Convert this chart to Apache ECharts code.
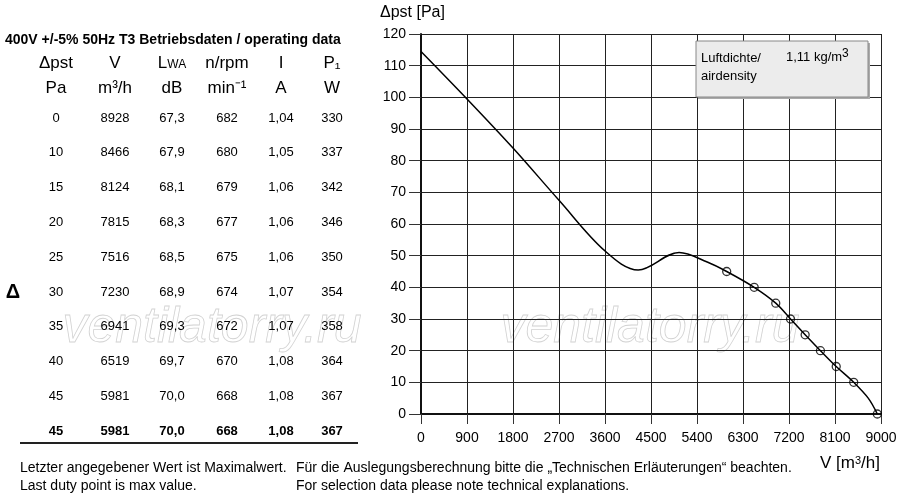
<!DOCTYPE html>
<html>
<head>
<meta charset="utf-8">
<script src="https://cdn.jsdelivr.net/npm/echarts@6/dist/echarts.min.js"></script>
<style>
  html, body { margin: 0; padding: 0; background: #fff; }
  #main { width: 900px; height: 500px; }
</style>
</head>
<body>
<div id="main"></div>
<script>
// Betriebsdaten (table + markers)
var dpst    = [0, 10, 15, 20, 25, 30, 35, 40, 45, 45];
var flow    = [8928, 8466, 8124, 7815, 7516, 7230, 6941, 6519, 5981, 5981];
var lwa     = ['67,3', '67,9', '68,1', '68,3', '68,5', '68,9', '69,3', '69,7', '70,0', '70,0'];
var rpm     = [682, 680, 679, 677, 675, 674, 672, 670, 668, 668];
var current = ['1,04', '1,05', '1,06', '1,06', '1,06', '1,07', '1,07', '1,08', '1,08', '1,08'];
var power   = [330, 337, 342, 346, 350, 354, 358, 364, 367, 367];

// Kennlinie
var curveV = [0, 900, 1800, 2700, 3600, 4250, 5050, 5600, 5981, 6519, 6941, 7230, 7516, 7815, 8124, 8466, 8750, 8928];
var curveP = [114.5, 99.5, 84, 67.5, 51.5, 45.5, 51, 48, 45, 40, 35, 30, 25, 20, 15, 10, 5, 0];

var xTicks = [0, 900, 1800, 2700, 3600, 4500, 5400, 6300, 7200, 8100, 9000];

var FONT = '"Liberation Sans", Arial, sans-serif';
var chart = echarts.init(document.getElementById('main'));

var colX = [56, 115, 172, 227, 281, 332];
var graphic = [];

// Tabelle
graphic.push({ type: 'text', left: 5, top: 33,
  style: { text: '400V +/-5% 50Hz T3 Betriebsdaten / operating data', font: 'bold 14px ' + FONT, fill: '#000' } });

var head1 = ['Δpst', 'V', '{n|L}{s|WA}', 'n/rpm', 'I', 'P₁'];
var head2 = ['Pa', 'm³/h', 'dB', 'min⁻¹', 'A', 'W'];
for (var c = 0; c < 6; c++) {
  graphic.push({ type: 'text', x: colX[c], y: 63,
    style: { text: head1[c], font: '17px ' + FONT, fill: '#000', align: 'center', verticalAlign: 'middle',
      rich: { n: { fontSize: 17, fontFamily: FONT }, s: { fontSize: 12, fontFamily: FONT, padding: [3, 0, 0, 0] } } } });
  graphic.push({ type: 'text', x: colX[c], y: 88,
    style: { text: head2[c], font: '17px ' + FONT, fill: '#000', align: 'center', verticalAlign: 'middle' } });
}

for (var r = 0; r < dpst.length; r++) {
  var row = [dpst[r], flow[r], lwa[r], rpm[r], current[r], power[r]];
  var bold = r === dpst.length - 1;
  for (var k = 0; k < 6; k++) {
    graphic.push({ type: 'text', x: colX[k], y: 118 + r * 34.8,
      style: { text: String(row[k]), font: (bold ? 'bold ' : '') + '13px ' + FONT, fill: '#000',
        align: 'center', verticalAlign: 'middle' } });
  }
}
graphic.push({ type: 'text', x: 13, y: 292,
  style: { text: 'Δ', font: 'bold 20px ' + FONT, fill: '#000', align: 'center', verticalAlign: 'middle' } });
graphic.push({ type: 'line', shape: { x1: 20, y1: 443, x2: 358, y2: 443 },
  style: { stroke: '#222', lineWidth: 2 } });

// Wasserzeichen
['ventilatorry.ru', 'ventilatorry.ru'].forEach(function (t, i) {
  graphic.push({ type: 'text', left: i === 0 ? 62 : 500, top: 303, z: -1,
    style: { text: t, font: 'italic 50px ' + FONT, fill: 'rgba(255,255,255,0)', stroke: '#d2d2d2', lineWidth: 0.8 } });
});

// Luftdichte-Box
graphic.push({ type: 'rect', shape: { x: 698, y: 43, width: 172, height: 56 },
  style: { fill: '#aaa' }, z: 10 });
graphic.push({ type: 'rect', shape: { x: 696, y: 41, width: 172, height: 56 },
  style: { fill: '#ececec', stroke: '#888', lineWidth: 1 }, z: 11 });
graphic.push({ type: 'text', left: 701, top: 52, z: 12,
  style: { text: 'Luftdichte/', font: '13px ' + FONT, fill: '#000' } });
graphic.push({ type: 'text', left: 701, top: 70, z: 12,
  style: { text: 'airdensity', font: '13px ' + FONT, fill: '#000' } });
graphic.push({ type: 'text', left: 786, top: 48, z: 12,
  style: { text: '{a|1,11 kg/m}{b|3}', fill: '#000',
    rich: { a: { fontSize: 13, fontFamily: FONT, padding: [6, 0, 0, 0] }, b: { fontSize: 12, fontFamily: FONT } } } });

// Achsentitel
graphic.push({ type: 'text', left: 380, top: 5,
  style: { text: 'Δpst [Pa]', font: '16px ' + FONT, fill: '#000' } });
graphic.push({ type: 'text', left: 820, top: 455,
  style: { text: '{a|V [m}{b|3}{a|/h]}', fill: '#000',
    rich: { a: { fontSize: 17, fontFamily: FONT, padding: [5, 0, 0, 0] }, b: { fontSize: 11, fontFamily: FONT } } } });

// Fußnoten
var foot = [
  ['Letzter angegebener Wert ist Maximalwert.', 20, 461],
  ['Last duty point is max value.', 20, 479],
  ['Für die Auslegungsberechnung bitte die „Technischen Erläuterungen“ beachten.', 296, 461],
  ['For selection data please note technical explanations.', 296, 479]
];
foot.forEach(function (f) {
  graphic.push({ type: 'text', left: f[1], top: f[2],
    style: { text: f[0], font: '14px ' + FONT, fill: '#000' } });
});

var option = {
  animation: false,
  backgroundColor: '#fff',
  grid: { left: 421, top: 34, right: 19, bottom: 86, containLabel: false },
  xAxis: {
    type: 'value', min: 0, max: 9000, interval: 900,
    axisLine: { show: true, onZero: false, lineStyle: { color: '#111', width: 2 } },
    axisTick: { show: true, length: 10, lineStyle: { color: '#333' } },
    axisLabel: { color: '#000', fontSize: 14, fontFamily: FONT, margin: 17,
      formatter: function (v) { return xTicks.indexOf(v) >= 0 ? String(v) : ''; } },
    splitLine: { show: true, lineStyle: { color: '#222', width: 1 } }
  },
  yAxis: {
    type: 'value', min: 0, max: 120, interval: 10,
    axisLine: { show: true, lineStyle: { color: '#111', width: 2 } },
    axisTick: { show: true, length: 12, lineStyle: { color: '#333' } },
    axisLabel: { color: '#000', fontSize: 14, fontFamily: FONT, margin: 15 },
    splitLine: { show: true, lineStyle: { color: '#222', width: 1 } }
  },
  series: [
    {
      type: 'line',
      data: curveV.map(function (v, i) { return [v, curveP[i]]; }),
      smooth: 0.35,
      showSymbol: false,
      lineStyle: { color: '#000', width: 1.5 },
      z: 3
    },
    {
      type: 'scatter',
      data: flow.slice(0, 9).map(function (v, i) { return [v, dpst[i]]; }),
      symbol: 'circle',
      symbolSize: 8,
      itemStyle: { color: 'rgba(255,255,255,0)', borderColor: '#000', borderWidth: 1.3 },
      z: 4
    }
  ],
  graphic: graphic
};

chart.setOption(option);
</script>
</body>
</html>
